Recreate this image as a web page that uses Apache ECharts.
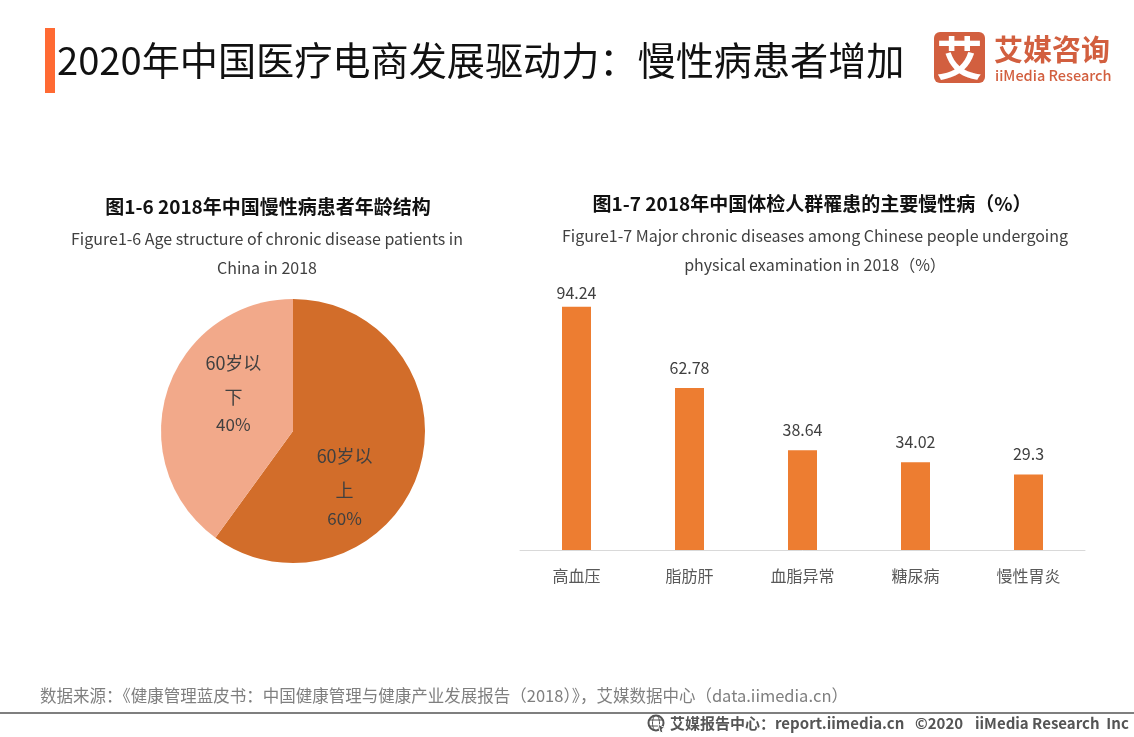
<!DOCTYPE html>
<html><head><meta charset="utf-8">
<style>html,body{margin:0;padding:0;background:#fff}#c{width:1134px;height:737px}</style>
<script src="https://cdn.jsdelivr.net/npm/echarts@6/dist/echarts.min.js"></script>
</head><body><div id="c"></div>
<script>
const pieNames = ['60岁以\n上', '60岁以\n下'];
const pieValues = [60, 40];
const pieColors = ['#D26D2A', '#F2A98A'];
const barCategories = ['高血压', '脂肪肝', '血脂异常', '糖尿病', '慢性胃炎'];
const barValues = [94.24, 62.78, 38.64, 34.02, 29.3];
const CJK = '"Noto Sans CJK SC","Noto Sans",sans-serif';
function txt(x, y, text, size, color, extra) {
  return {type:'text', x, y, silent:true, style:Object.assign({text, fontFamily:CJK, fontSize:size, fill:color, verticalAlign:'middle'}, extra||{})};
}
const chart = echarts.init(document.getElementById('c'), null, {renderer:'canvas'});
chart.setOption({
  animation:false,
  backgroundColor:'#fff',
  grid:{left:520, right:49, top:292, bottom:187},
  xAxis:{type:'category', data:barCategories, offset:1,
    axisLine:{lineStyle:{color:'#D9D9D9', width:1}}, axisTick:{show:false},
    axisLabel:{color:'#595959', fontSize:16, fontFamily:CJK, margin:17}},
  yAxis:{type:'value', min:0, max:100, show:false},
  series:[
    {type:'bar', barWidth:29, itemStyle:{color:'#ED7D31'},
     data:barValues.map((v,i)=>({value:v, label:{distance:i===0?6:12}})),
     label:{show:true, position:'top', color:'#404040', fontSize:16, fontFamily:CJK}},
    {type:'pie', center:[293,431], radius:[0,132], startAngle:90, clockwise:true,
     data:pieNames.map((n,i)=>({name:n, value:pieValues[i], itemStyle:{color:pieColors[i]}})),
     label:{show:true, position:'inside', color:'#404040', fontSize:17, fontFamily:CJK,
       formatter:p=>p.name.split('\n').map(s=>'{n|'+s+'}').join('\n')+'\n{p|'+p.percent+'%}',
       rich:{n:{fontSize:18, lineHeight:34, color:'#404040', fontFamily:CJK},
             p:{fontSize:17, lineHeight:22, color:'#404040', fontFamily:CJK}}},
     labelLine:{show:false},
     labelLayout:function(p){ return p.dataIndex===0 ? {dx:-14, dy:32} : {dx:6, dy:-19}; },
     silent:true}
  ],
  graphic:[
    {type:'rect', shape:{x:45,y:28,width:10,height:65}, style:{fill:'#FF6A33'}, silent:true},
    txt(57,60,'2020年中国医疗电商发展驱动力：慢性病患者增加',38.15,'#111'),
    {type:'rect', shape:{x:934,y:32,width:51,height:51,r:6}, style:{fill:'#D25F3F'}, silent:true},
    txt(959.5,58,'艾',46,'#fff',{textAlign:'center',fontWeight:'bold'}),
    txt(994,50,'艾媒咨询',29,'#D25F3F',{fontWeight:'bold'}),
    txt(995,75,'iiMedia Research',14.5,'#D25F3F',{fontWeight:500}),
    txt(268,207,'图1-6 2018年中国慢性病患者年龄结构',19,'#111',{textAlign:'center',fontWeight:'bold'}),
    txt(267,239,'Figure1-6 Age structure of chronic disease patients in',16,'#404040',{textAlign:'center'}),
    txt(267,268,'China in 2018',16,'#404040',{textAlign:'center'}),
    txt(812,204,'图1-7 2018年中国体检人群罹患的主要慢性病（%）',19,'#111',{textAlign:'center',fontWeight:'bold'}),
    txt(815,236,'Figure1-7 Major chronic diseases among Chinese people undergoing',16,'#404040',{textAlign:'center'}),
    txt(815,265,'physical examination in 2018（%）',16,'#404040',{textAlign:'center'}),
    txt(40,696,'数据来源：《健康管理蓝皮书：中国健康管理与健康产业发展报告（2018）》，艾媒数据中心（data.iimedia.cn）',16.5,'#7F7F7F'),
    {type:'rect', shape:{x:0,y:712,width:1134,height:2}, style:{fill:'#7F7F7F'}, silent:true},
    {type:'circle', shape:{cx:656,cy:723,r:7.5}, style:{fill:'none',stroke:'#555',lineWidth:2}, silent:true},
    {type:'ellipse', shape:{cx:656,cy:723,rx:3.5,ry:7.5}, style:{fill:'none',stroke:'#555',lineWidth:1}, silent:true},
    {type:'line', shape:{x1:649,y1:720,x2:663,y2:720}, style:{stroke:'#555',lineWidth:1}, silent:true},
    {type:'line', shape:{x1:649,y1:726,x2:663,y2:726}, style:{stroke:'#555',lineWidth:1}, silent:true},
    {type:'polygon', shape:{points:[[658,724],[665,728],[662,729],[663,733],[660,732]]}, style:{fill:'#555',stroke:'#fff',lineWidth:1}, silent:true},
    txt(670,723,'艾媒报告中心：report.iimedia.cn',15,'#555',{fontWeight:'bold'}),
    txt(915,723,'©2020',15,'#555',{fontWeight:'bold'}),
    txt(975,723,'iiMedia Research  Inc',15,'#555',{fontWeight:'bold'})
  ]
});
</script></body></html>
